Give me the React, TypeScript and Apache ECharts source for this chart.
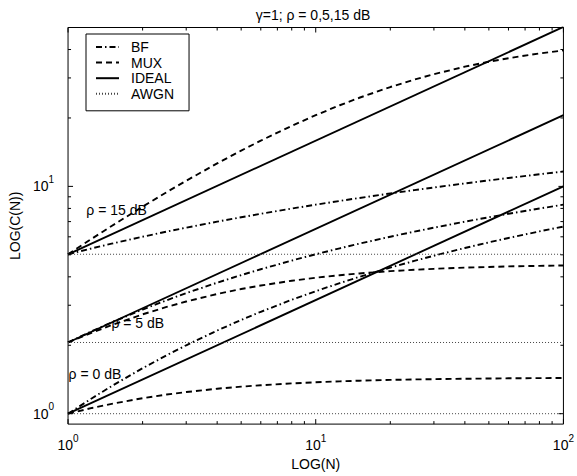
import React, { useEffect, useRef } from 'react';
import * as echarts from 'echarts';

// ---- data ----
const N = [1, 1.25, 1.5, 2, 2.5, 3, 4, 5, 6, 8, 10, 12.5, 15, 20, 25, 30, 40, 50, 60, 80, 100];

const bf0 = [1, 1.17, 1.322, 1.585, 1.807, 2.0, 2.322, 2.585, 2.807, 3.17, 3.459, 3.755, 4.0, 4.392, 4.7, 4.954, 5.358, 5.672, 5.931, 6.34, 6.658];
const bf5 = [2.057, 2.308, 2.522, 2.873, 3.155, 3.391, 3.771, 4.071, 4.32, 4.717, 5.028, 5.341, 5.598, 6.006, 6.323, 6.583, 6.994, 7.314, 7.575, 7.989, 8.309];
const bf15 = [5.028, 5.341, 5.598, 6.006, 6.323, 6.583, 6.994, 7.314, 7.575, 7.989, 8.309, 8.63, 8.893, 9.307, 9.629, 9.891, 10.306, 10.628, 10.891, 11.305, 11.627];

const mux0 = [1, 1.06, 1.105, 1.17, 1.214, 1.245, 1.288, 1.315, 1.334, 1.359, 1.375, 1.388, 1.397, 1.408, 1.415, 1.419, 1.425, 1.428, 1.431, 1.434, 1.436];
const mux5 = [2.057, 2.274, 2.454, 2.736, 2.949, 3.115, 3.362, 3.535, 3.664, 3.845, 3.964, 4.067, 4.14, 4.237, 4.297, 4.338, 4.392, 4.421, 4.446, 4.472, 4.488];
const mux15 = [5.028, 5.896, 6.697, 8.143, 9.428, 10.588, 12.62, 14.364, 15.891, 18.466, 20.574, 22.745, 24.54, 27.36, 29.49, 31.16, 33.62, 35.36, 36.64, 38.45, 39.65];

const lineN = [1, 100];
const ideal0 = [1, 10];
const ideal5 = [2.057, 20.57];
const ideal15 = [5.028, 50.28];
const awgn0 = [1, 1];
const awgn5 = [2.057, 2.057];
const awgn15 = [5.028, 5.028];

const legendNames = ['BF', 'MUX', 'IDEAL', 'AWGN'];

const xTickExponents = [0, 1, 2];
const yTickExponents = [0, 1];
const xMajorTicks = [1, 10, 100];
const xMinorTicks = [2, 3, 4, 5, 6, 7, 8, 9, 20, 30, 40, 50, 60, 70, 80, 90];
const yMajorTicks = [1, 10];
const yMinorTicks = [2, 3, 4, 5, 6, 7, 8, 9, 20, 30, 40];

const annTexts = ['ρ = 15 dB', 'ρ = 5 dB', 'ρ = 0 dB'];
const annX = [1.18, 1.49, 1.0];
const annY = [7.87, 2.5, 1.49];

const titleText = 'γ=1; ρ = 0,5,15 dB';
const xName = 'LOG(N)';
const yName = 'LOG(C(N))';

const X_MIN = 1;
const X_MAX = 100;
const Y_MIN = 0.9;
const Y_MAX = 50;

// ---- styling ----
const FONT = '"Liberation Sans", Arial, Helvetica, sans-serif';
const BLACK = '#000';
const BF_DASH = [6, 3, 1.5, 3];
const MUX_DASH = [6, 4];
const AWGN_DASH = [1, 2];
const LW = 1.9;

function pairs(xs: number[], ys: number[]) {
  return xs.map((x, i) => [x, ys[i]]);
}

function lineSeries(name: string, xs: number[], ys: number[], type: any, width: number, color = BLACK) {
  return {
    type: 'line',
    name,
    data: pairs(xs, ys),
    symbol: 'none',
    showSymbol: false,
    silent: true,
    clip: true,
    lineStyle: { color, width, type },
    itemStyle: { color },
    z: 2,
  };
}

function expLabel(v: number, allowed: number[]) {
  const l = Math.log10(v);
  const e = Math.round(l);
  if (Math.abs(l - e) > 1e-6 || allowed.indexOf(e) < 0) return '';
  return `{b|10}{s|${e}}`;
}

const rich = {
  b: { fontSize: 14, lineHeight: 24, fontFamily: FONT, color: BLACK },
  s: { fontSize: 10, lineHeight: 10, verticalAlign: 'top', fontFamily: FONT, color: BLACK },
};

export default function App() {
  const ref = useRef<HTMLDivElement>(null);
  useEffect(() => {
    document.body.style.margin = '0';
    document.body.style.overflow = 'hidden';
    const chart = echarts.init(ref.current!, null, { renderer: 'svg' });

    const tickData: number[][] = [
      ...xMinorTicks.map((v) => [v, 1, 0, 3]),
      ...xMajorTicks.map((v) => [v, 1, 0, 5]),
      ...yMinorTicks.map((v) => [1, v, 1, 3]),
      ...yMajorTicks.map((v) => [1, v, 1, 5]),
    ];

    const option: any = {
      animation: false,
      backgroundColor: '#fff',
      grid: {
        left: 60.5,
        right: 10.5,
        top: 27.5,
        bottom: 48.5,
        show: true,
        borderColor: BLACK,
        borderWidth: 1,
        backgroundColor: 'transparent',
        containLabel: false,
      },
      graphic: [
        {
          type: 'text',
          x: 313,
          y: 15,
          z: 10,
          style: {
            text: titleText,
            fill: BLACK,
            font: `14px ${FONT}`,
            align: 'center',
            verticalAlign: 'middle',
            textAlign: 'center',
            textVerticalAlign: 'middle',
          },
        },
      ],
      legend: {
        data: legendNames,
        orient: 'vertical',
        left: 86,
        top: 34,
        padding: [6, 15, 10, 9],
        itemWidth: 23,
        itemHeight: 14,
        itemGap: 1.6,
        selectedMode: false,
        backgroundColor: '#fff',
        borderColor: BLACK,
        borderWidth: 1,
        borderRadius: 0,
        itemStyle: { opacity: 0, borderWidth: 0 },
        textStyle: {
          fontSize: 14,
          lineHeight: 14,
          fontFamily: FONT,
          color: BLACK,
          padding: [0, 0, 0, 7],
        },
      },
      xAxis: {
        type: 'log',
        logBase: 10,
        min: X_MIN,
        max: X_MAX,
        name: xName,
        nameLocation: 'middle',
        nameGap: 32,
        nameTextStyle: { fontSize: 14, fontFamily: FONT, color: BLACK },
        axisLine: { show: false },
        axisTick: { show: false },
        splitLine: { show: false },
        minorTick: { show: false },
        axisLabel: {
          margin: 9,
          formatter: (v: number) => expLabel(v, xTickExponents),
          rich,
        },
      },
      yAxis: {
        type: 'log',
        logBase: 10,
        min: Y_MIN,
        max: Y_MAX,
        name: yName,
        nameLocation: 'middle',
        nameRotate: 90,
        nameGap: 34,
        nameTextStyle: { fontSize: 14, fontFamily: FONT, color: BLACK },
        axisLine: { show: false },
        axisTick: { show: false },
        splitLine: { show: false },
        minorTick: { show: false },
        axisLabel: {
          margin: 14,
          formatter: (v: number) => expLabel(v, yTickExponents),
          rich,
        },
      },
      series: [
        lineSeries('BF', N, bf0, BF_DASH, LW),
        lineSeries('BF', N, bf5, BF_DASH, LW),
        lineSeries('BF', N, bf15, BF_DASH, LW),
        lineSeries('MUX', N, mux0, MUX_DASH, LW),
        lineSeries('MUX', N, mux5, MUX_DASH, LW),
        lineSeries('MUX', N, mux15, MUX_DASH, LW),
        lineSeries('IDEAL', lineN, ideal0, 'solid', LW),
        lineSeries('IDEAL', lineN, ideal5, 'solid', LW),
        lineSeries('IDEAL', lineN, ideal15, 'solid', LW),
        lineSeries('AWGN', lineN, awgn0, AWGN_DASH, 1, '#444'),
        lineSeries('AWGN', lineN, awgn5, AWGN_DASH, 1, '#444'),
        lineSeries('AWGN', lineN, awgn15, AWGN_DASH, 1, '#444'),
        {
          type: 'scatter',
          name: 'annotations',
          silent: true,
          symbolSize: 1,
          itemStyle: { color: 'rgba(0,0,0,0)' },
          z: 5,
          data: annX.map((x, i) => ({
            value: [x, annY[i]],
            label: { formatter: annTexts[i], color: '#000' },
          })),
          label: {
            show: true,
            position: 'right',
            distance: 0,
            fontSize: 14,
            fontFamily: FONT,
            color: '#000',
            opacity: 1,
            textBorderWidth: 0,
          },
        },
        {
          type: 'custom',
          name: 'ticks',
          silent: true,
          clip: false,
          z: 6,
          encode: { x: 0, y: 1 },
          data: tickData,
          renderItem: (params: any, api: any) => {
            const v0 = api.value(0);
            const v1 = api.value(1);
            const flag = api.value(2);
            const len = api.value(3);
            const style = { stroke: BLACK, lineWidth: 1 };
            if (flag === 0) {
              const b = api.coord([v0, Y_MIN]);
              const t = api.coord([v0, Y_MAX]);
              return {
                type: 'group',
                children: [
                  { type: 'line', shape: { x1: b[0], y1: b[1], x2: b[0], y2: b[1] - len }, style },
                  { type: 'line', shape: { x1: t[0], y1: t[1], x2: t[0], y2: t[1] + len }, style },
                ],
              };
            }
            const l = api.coord([X_MIN, v1]);
            const r = api.coord([X_MAX, v1]);
            return {
              type: 'group',
              children: [
                { type: 'line', shape: { x1: l[0], y1: l[1], x2: l[0] + len, y2: l[1] }, style },
                { type: 'line', shape: { x1: r[0], y1: r[1], x2: r[0] - len, y2: r[1] }, style },
              ],
            };
          },
        },
      ],
    };

    chart.setOption(option);
    return () => chart.dispose();
  }, []);
  return <div ref={ref} style={{ width: 577, height: 476 }} />;
}
